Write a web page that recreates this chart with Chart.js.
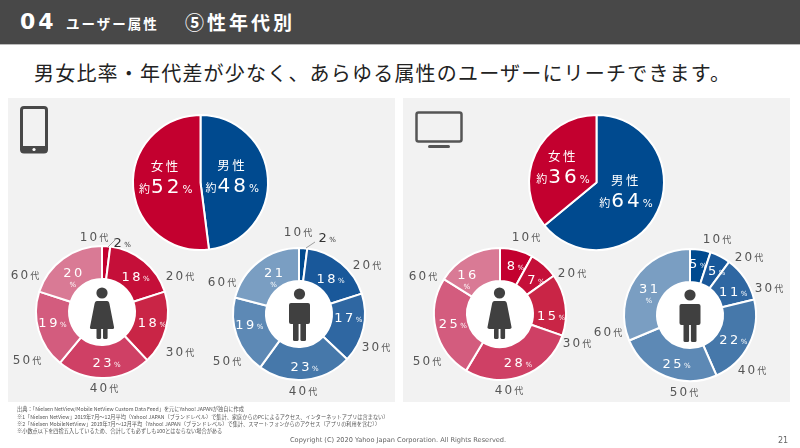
<!DOCTYPE html>
<html lang="ja">
<head>
<meta charset="UTF-8">
<title>性年代別</title>
<style>
  html, body { margin: 0; padding: 0; background: #fff; }
  body { width: 800px; height: 448px; position: relative; overflow: hidden; font-family: "Noto Sans CJK JP", "Noto Sans", sans-serif; }
  .abs { position: absolute; white-space: nowrap; }
  #header { left: 0; top: 0; width: 800px; height: 44px; background: #484848; border-bottom: 1px solid #bbb; }
  .panel { background: #f2f2f2; top: 98px; height: 304px; }
  canvas { position: absolute; }
  #overlay { position: absolute; left: 0; top: 0; }
  .age { color: #555; font-family: "DejaVu Sans", sans-serif; font-size: 12px; letter-spacing: 2.2px; line-height: 1; transform: translate(-50%, -50%); }
  .age small { font-family: "Noto Sans CJK JP", sans-serif; font-size: 9px; letter-spacing: 0; }
  .note { left: 17px; font-size: 5.2px; color: #555; line-height: 1; }
  .foot { top: 435px; font-size: 6.6px; color: #666; line-height: 11px; font-family: "DejaVu Sans", sans-serif; }
</style>
<script src="https://cdn.jsdelivr.net/npm/chart.js"></script>
</head>
<body>
<div class="abs" id="header"></div>
<div class="abs" style="left:20px;top:5px;font-size:22px;font-weight:700;color:#fff;letter-spacing:3px;line-height:34px;font-family:'DejaVu Sans',sans-serif">04</div>
<div class="abs" style="left:66px;top:12px;font-size:13.5px;font-weight:700;color:#fff;line-height:22px;letter-spacing:2px">ユーザー属性</div>
<div class="abs" style="left:185px;top:9px;font-size:19px;font-weight:700;color:#fff;line-height:26px;letter-spacing:3px">⑤性年代別</div>
<div class="abs" style="left:34px;top:58px;font-size:20px;color:#222;line-height:30px;letter-spacing:1.2px">男女比率・年代差が少なく、あらゆる属性のユーザーにリーチできます。</div>

<div class="abs panel" style="left:8px;width:387px"></div>
<div class="abs panel" style="left:403px;width:387px"></div>

<div id="charts"></div>

<svg id="overlay" width="800" height="448" viewBox="0 0 800 448">
  <defs>
    <g id="woman" fill="#404040">
      <circle cx="0" cy="-19" r="5.6"/>
      <path d="M-5 -11 H5 Q7 -11 7.5 -8 L12 15 Q12.5 17 10 17 H-10 Q-12.5 17 -12 15 L-7.5 -8 Q-7 -11 -5 -11Z"/>
      <rect x="-5.5" y="16" width="4.6" height="11" rx="1.5"/>
      <rect x="1" y="16" width="4.6" height="11" rx="1.5"/>
    </g>
    <g id="man" fill="#404040">
      <circle cx="0" cy="-20" r="5.6"/>
      <rect x="-10.5" y="-11" width="21" height="21" rx="2"/>
      <rect x="-6.5" y="6" width="5.6" height="21" rx="1.5"/>
      <rect x="0.9" y="6" width="5.6" height="21" rx="1.5"/>
    </g>
  </defs>
  <rect x="21.5" y="107.5" width="25" height="44.5" rx="2.5" fill="none" stroke="#484848" stroke-width="3"/>
  <rect x="21" y="146" width="26" height="7" rx="2" fill="#484848"/>
  <circle cx="34" cy="149.5" r="1.6" fill="#fff"/>
  <rect x="416.5" y="112.5" width="45" height="29" rx="2" fill="none" stroke="#555" stroke-width="2.5"/>
  <rect x="428" y="145" width="22" height="3" rx="1.5" fill="#555"/>
  <line x1="108" y1="247" x2="115" y2="240" stroke="#888" stroke-width="0.8"/>
  <line x1="306" y1="248" x2="315" y2="242" stroke="#888" stroke-width="0.8"/>
  <use href="#woman" x="102" y="312"/>
  <use href="#man" x="299.5" y="314"/>
  <use href="#woman" x="499.5" y="312"/>
  <use href="#man" x="690" y="315"/>
</svg>

<div class="abs note" style="top:406px">出典：「Nielsen NetView/Mobile NetView Custom Data Feed」を元にYahoo! JAPANが独自に作成</div>
<div class="abs note" style="top:414px">※1「Nielsen NetView」2019年7月～12月平均（Yahoo! JAPAN（ブランドレベル）で集計、家庭からのPCによるアクセス、インターネットアプリは含まない）</div>
<div class="abs note" style="top:421px">※2「Nielsen MobileNetView」2019年7月～12月平均（Yahoo! JAPAN（ブランドレベル）で集計、スマートフォンからのアクセス（アプリの利用を含む））</div>
<div class="abs note" style="top:428px">※小数点以下を四捨五入しているため、合計しても必ずしも100とはならない場合がある</div>
<div class="abs foot" style="left:290px">Copyright (C) 2020 Yahoo Japan Corporation. All Rights Reserved.</div>
<div class="abs foot" style="left:778px;font-size:8px">21</div>

<script>
// 読み取った値
const ageLabels = ['10', '20', '30', '40', '50', '60'];
const genderLabels = ['男性', '女性'];
const mobileGender = [48, 52];
const pcGender = [64, 36];
const mobileFemale = [2, 18, 18, 23, 19, 20];
const mobileMale = [2, 18, 17, 23, 19, 21];
const pcFemale = [8, 7, 15, 28, 25, 16];
const pcMale = [5, 5, 11, 22, 25, 31];

// 色
const genderColors = ['#004a8f', '#c3002f'];
const femaleColors = ['#c3002f', '#c50f39', '#c92546', '#cf4065', '#d35c7e', '#d97a95'];
const maleColors = ['#004a8f', '#19589a', '#2f67a2', '#4678aa', '#5d89b5', '#7a9ec2'];

// 配置
const mobileFemaleAgePos = [[94, 237], [180, 276], [180, 352], [104, 388], [27, 360], [25, 275]];
const mobileMaleAgePos = [[298, 232], [367, 265], [376, 347], [303, 391], [227, 361], [222, 282]];
const pcFemaleAgePos = [[526, 237], [572, 273], [577, 343], [509, 390], [427, 361], [423, 276]];
const pcMaleAgePos = [[717, 239], [749, 257], [769, 288], [752, 370], [684, 392], [608, 332]];

// 弧の中心からのずらし量
const mobileFemaleNudge = [[17, -21], [2, 2], [2, -2], [3, 1], [-2, -4], [0, 0]];
const mobileMaleNudge = [[25, -28], [0, 2], [1, -8], [1, 3], [-3, -7], [5, -3]];
const pcFemaleNudge = [[3, -1], [3, 2], [2, 8], [1, 1], [1, -3], [-9, 3]];
const pcMaleNudge = [[0, -3], [4, -1], [2, 3], [-1, 2], [5, 2], [0, 0]];

const FONT = '"Noto Sans CJK JP", sans-serif';
const DIGIT_FONT = '"DejaVu Sans", sans-serif';
const PAD = 40;

// 数字と小さい文字を一行に並べて描く
function drawRun(ctx, parts, cx, y, color) {
    let total = 0;
    parts.forEach(p => {
        ctx.font = p.font;
        ctx.letterSpacing = p.gap + 'px';
        p.w = ctx.measureText(p.text).width;
        total += p.w;
    });
    let x = cx - total / 2;
    ctx.fillStyle = color;
    ctx.textAlign = 'left';
    ctx.textBaseline = 'alphabetic';
    parts.forEach(p => {
        ctx.font = p.font;
        ctx.letterSpacing = p.gap + 'px';
        ctx.fillText(p.text, x, y);
        x += p.w;
    });
    ctx.letterSpacing = '0px';
}

const holePlugin = {
    id: 'hole',
    beforeDatasetsDraw(chart) {
        const arc = chart.getDatasetMeta(0).data[0];
        const ctx = chart.ctx;
        ctx.save();
        ctx.fillStyle = '#fff';
        ctx.beginPath();
        ctx.arc(arc.x, arc.y, arc.innerRadius + 1, 0, Math.PI * 2);
        ctx.fill();
        ctx.restore();
    }
};

const pctPlugin = {
    id: 'pct',
    afterDatasetsDraw(chart, args, opts) {
        const ctx = chart.ctx;
        const values = chart.data.datasets[0].data;
        ctx.save();
        chart.getDatasetMeta(0).data.forEach((arc, i) => {
            const c = arc.getCenterPoint();
            const n = opts.nudge[i];
            const x = c.x + n[0], y = c.y + n[1];
            const big = { text: String(values[i]), font: '13px ' + DIGIT_FONT, gap: 2.5 };
            const pct = { text: '%', font: '7px ' + DIGIT_FONT, gap: 0 };
            const color = (n[0] > 10) ? '#333' : '#fff';
            if (i === 5) {
                drawRun(ctx, [big], x + 1, y + 5, color);
                drawRun(ctx, [pct], x, y + 15, color);
            } else {
                drawRun(ctx, [big, pct], x, y + 5, color);
            }
        });
        ctx.restore();
    }
};

const genderPlugin = {
    id: 'gender',
    afterDatasetsDraw(chart, args, opts) {
        const ctx = chart.ctx;
        const values = chart.data.datasets[0].data;
        ctx.save();
        chart.getDatasetMeta(0).data.forEach((arc, i) => {
            const c = arc.getCenterPoint();
            const x = c.x + opts.nudge[i][0], y = c.y + opts.nudge[i][1];
            drawRun(ctx, [{ text: genderLabels[i], font: '12.5px ' + FONT, gap: 2.5 }], x, y - 5, '#fff');
            drawRun(ctx, [
                { text: '約', font: '11px ' + FONT, gap: 1 },
                { text: String(values[i]), font: '20px ' + DIGIT_FONT, gap: 3 },
                { text: '%', font: '10.5px ' + DIGIT_FONT, gap: 0 }
            ], x, y + 17, '#fff');
        });
        ctx.restore();
    }
};

function makeCanvas(cx, cy, r) {
    const size = r * 2 + 2 + PAD * 2;
    const canvas = document.createElement('canvas');
    canvas.width = size;
    canvas.height = size;
    canvas.style.left = (cx - size / 2) + 'px';
    canvas.style.top = (cy - size / 2) + 'px';
    canvas.style.width = size + 'px';
    canvas.style.height = size + 'px';
    document.getElementById('charts').appendChild(canvas);
    return canvas;
}

function baseOptions(cutout) {
    return {
        responsive: false,
        animation: false,
        cutout: cutout,
        rotation: 0,
        layout: { padding: PAD },
        plugins: { legend: { display: false }, tooltip: { enabled: false } }
    };
}

function drawGenderPie(cx, cy, values, nudge) {
    const options = baseOptions(0);
    options.plugins.gender = { nudge: nudge };
    new Chart(makeCanvas(cx, cy, 67.5), {
        type: 'pie',
        data: { labels: genderLabels, datasets: [{ data: values, backgroundColor: genderColors, borderColor: '#fff', borderWidth: 2 }] },
        options: options,
        plugins: [genderPlugin]
    });
}

function drawAgeDonut(cx, cy, values, colors, nudge, agePos) {
    const options = baseOptions('50%');
    options.plugins.pct = { nudge: nudge };
    new Chart(makeCanvas(cx, cy, 66), {
        type: 'doughnut',
        data: { labels: ageLabels.map(a => a + '代'), datasets: [{ data: values, backgroundColor: colors, borderColor: '#fff', borderWidth: 2 }] },
        options: options,
        plugins: [holePlugin, pctPlugin]
    });
    ageLabels.forEach((a, i) => {
        const el = document.createElement('div');
        el.className = 'abs age';
        el.style.left = agePos[i][0] + 'px';
        el.style.top = agePos[i][1] + 'px';
        el.innerHTML = a + '<small>代</small>';
        document.body.appendChild(el);
    });
}

drawGenderPie(200.5, 182, mobileGender, [[-2, -5], [-1, -9]]);
drawGenderPie(596.5, 182, pcGender, [[-1, -7], [-3, -2]]);
drawAgeDonut(102, 312, mobileFemale, femaleColors, mobileFemaleNudge, mobileFemaleAgePos);
drawAgeDonut(299, 314, mobileMale, maleColors, mobileMaleNudge, mobileMaleAgePos);
drawAgeDonut(499.5, 313.5, pcFemale, femaleColors, pcFemaleNudge, pcFemaleAgePos);
drawAgeDonut(690, 315, pcMale, maleColors, pcMaleNudge, pcMaleAgePos);
</script>
</body>
</html>
